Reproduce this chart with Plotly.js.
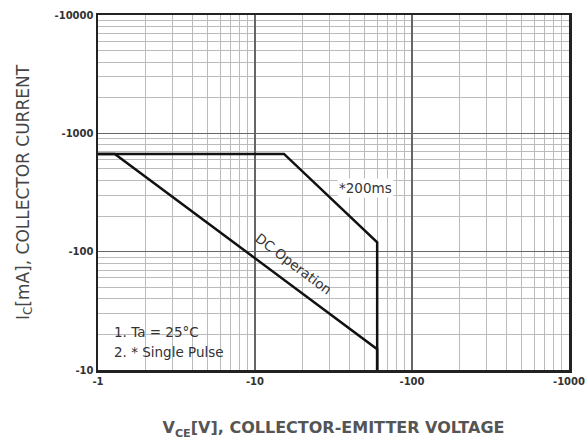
<!DOCTYPE html>
<html>
<head>
<meta charset="utf-8">
<script src="https://cdn.plot.ly/plotly-3.0.1.min.js"></script>
<style>html,body{margin:0;padding:0;background:#fff;}#chart{width:585px;height:442px;}</style>
</head>
<body>
<div id="chart"></div>
<script>
// Safe operating area (magnitudes; axis labels show the negative sign)
const vceDC = [1, 1.28, 60, 60];
const icDC = [670, 670, 15, 10];
const vce200 = [1, 15.3, 60, 60];
const ic200 = [670, 670, 120, 10];

const xTickVals = [1, 10, 100, 1000];
const xTickText = ["-1", "-10", "-100", "-1000"];
const yTickVals = [10, 100, 1000, 10000];
const yTickText = ["-10", "-100", "-1000", "-10000"];

const labelDC = "DC Operation";
const label200 = "*200ms";
const note1 = "1. Ta = 25°C";
const note2 = "2. * Single Pulse";

const FAM = "DejaVu Sans, Liberation Sans, Arial, sans-serif";
const lineStyle = {color: "#111", width: 2.5};
const traces = [
  {x: vce200, y: ic200, mode: "lines", line: lineStyle, hoverinfo: "skip", showlegend: false},
  {x: vceDC, y: icDC, mode: "lines", line: lineStyle, hoverinfo: "skip", showlegend: false}
];

const tickFont = {family: FAM, size: 10, color: "#333", weight: "bold"};
const noteFont = {family: FAM, size: 13.5, color: "#333"};

const axisCommon = {
  type: "log",
  showline: true, mirror: true, linecolor: "#222", linewidth: 2.5,
  showgrid: true, gridcolor: "#666", gridwidth: 1.5,
  ticks: "", tickfont: tickFont, ticklabeloverflow: "allow",
  minor: {showgrid: true, gridcolor: "#bbb", gridwidth: 1, dtick: "D1", ticks: ""},
  zeroline: false, fixedrange: true, automargin: false
};

const layout = {
  width: 585, height: 442,
  margin: {l: 98, r: 16, t: 15, b: 72},
  paper_bgcolor: "#fff", plot_bgcolor: "#fff",
  xaxis: Object.assign({}, axisCommon, {
    range: [0, 3], tickvals: xTickVals, ticktext: xTickText,
    title: {text: "V<sub>CE</sub>[V], COLLECTOR-EMITTER VOLTAGE",
            font: {family: FAM, size: 16, color: "#555", weight: "bold"}, standoff: 37}
  }),
  yaxis: Object.assign({}, axisCommon, {
    range: [1, 4], tickvals: yTickVals, ticktext: yTickText,
    title: {text: "I<sub>C</sub>[mA], COLLECTOR CURRENT",
            font: {family: FAM, size: 17, color: "#444"}, standoff: 21}
  }),
  shapes: [
    {type: "rect", xref: "paper", yref: "paper", x0: 0.004, x1: 0.301, y0: 0.004, y1: 0.177,
     fillcolor: "#fff", line: {width: 0}, layer: "between"}
  ],
  annotations: [
    {xref: "paper", yref: "paper", x: 0.569, y: 0.513, xanchor: "center", yanchor: "middle",
     text: label200, showarrow: false, font: noteFont, bgcolor: "#fff"},
    {xref: "paper", yref: "paper", x: 0.416, y: 0.299, xanchor: "center", yanchor: "middle",
     text: labelDC, showarrow: false, textangle: 37, font: noteFont},
    {xref: "paper", yref: "paper", x: 0.03, y: 0.107, xanchor: "left", yanchor: "middle",
     text: note1, showarrow: false, font: noteFont},
    {xref: "paper", yref: "paper", x: 0.03, y: 0.051, xanchor: "left", yanchor: "middle",
     text: note2, showarrow: false, font: noteFont}
  ]
};

Plotly.newPlot("chart", traces, layout, {staticPlot: true, displayModeBar: false});
</script>
</body>
</html>
